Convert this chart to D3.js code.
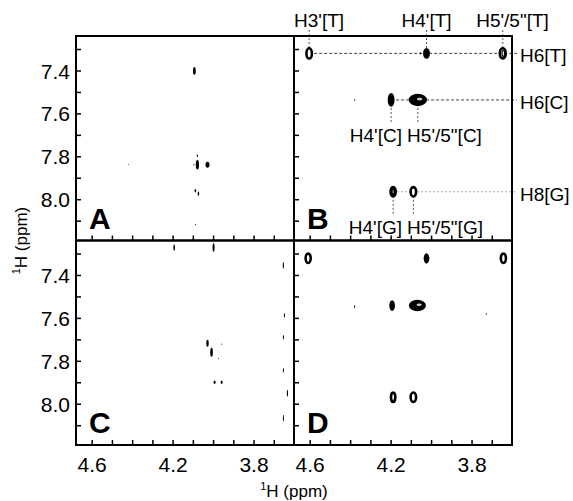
<!DOCTYPE html>
<html><head><meta charset="utf-8">
<script src="https://cdn.jsdelivr.net/npm/d3@7"></script>
<style>
html,body{margin:0;padding:0;background:#fff;}
svg text{font-family:"Liberation Sans",Arial,Helvetica,sans-serif;fill:#000;}
</style></head>
<body>
<svg id="chart" width="573" height="501"></svg>
<script>
// ---- data (ppm) ----
const panelNames = ["A", "B", "C", "D"];
const xTickValues = [4.6, 4.5, 4.4, 4.3, 4.2, 4.1, 4.0, 3.9, 3.8, 3.7];
const xTickLabels = ["4.6", "4.2", "3.8"];
const yTickValues = [7.3, 7.4, 7.5, 7.6, 7.7, 7.8, 7.9, 8.0, 8.1];
const yTickLabels = ["7.4", "7.6", "7.8", "8.0"];
const xDomain = [4.68, 3.6025];
const yDomain = [7.237, 8.19];

// peaks: [x ppm, y ppm, width x ppm, width y ppm, kind]
const peaksA = [
  [4.095, 7.400, 0.014, 0.036, "fill"],
  [4.080, 7.795, 0.006, 0.012, "fill"],
  [4.080, 7.837, 0.016, 0.044, "fill"],
  [4.030, 7.837, 0.020, 0.028, "fill"],
  [4.097, 7.837, 0.005, 0.006, "fill"],
  [4.420, 7.835, 0.004, 0.005, "fill"],
  [4.090, 7.958, 0.008, 0.016, "fill"],
  [4.075, 7.972, 0.008, 0.020, "fill"],
  [4.090, 8.116, 0.005, 0.005, "fill"]
];
const peaksB = [
  [4.605, 7.318, 0.040, 0.060, "ring"],
  [4.025, 7.318, 0.034, 0.050, "fill"],
  [3.648, 7.318, 0.042, 0.060, "ring2"],
  [4.055, 7.318, 0.006, 0.010, "fill"],
  [4.380, 7.535, 0.005, 0.008, "fill"],
  [4.200, 7.535, 0.034, 0.064, "fill"],
  [4.068, 7.535, 0.090, 0.058, "blob"],
  [4.190, 7.963, 0.038, 0.056, "fillring"],
  [4.090, 7.963, 0.040, 0.056, "ring"]
];
const peaksC = [
  [4.195, 7.270, 0.008, 0.030, "fill"],
  [4.000, 7.270, 0.010, 0.040, "fill"],
  [3.655, 7.353, 0.006, 0.032, "fill"],
  [3.650, 7.586, 0.005, 0.022, "fill"],
  [3.655, 7.688, 0.005, 0.022, "fill"],
  [3.655, 7.842, 0.005, 0.022, "fill"],
  [3.635, 7.949, 0.006, 0.032, "fill"],
  [3.655, 8.065, 0.005, 0.032, "fill"],
  [4.030, 7.716, 0.012, 0.032, "fill"],
  [4.010, 7.758, 0.013, 0.042, "fill"],
  [3.960, 7.720, 0.004, 0.006, "fill"],
  [3.975, 7.786, 0.004, 0.006, "fill"],
  [3.995, 7.898, 0.010, 0.016, "fill"],
  [3.960, 7.898, 0.010, 0.016, "fill"]
];
const peaksD = [
  [4.610, 7.320, 0.038, 0.056, "ring"],
  [4.025, 7.320, 0.028, 0.048, "fill"],
  [3.645, 7.320, 0.038, 0.056, "ring"],
  [4.380, 7.545, 0.005, 0.016, "fill"],
  [4.195, 7.540, 0.028, 0.050, "fill"],
  [4.070, 7.540, 0.084, 0.054, "blob"],
  [3.730, 7.580, 0.004, 0.010, "fill"],
  [4.190, 7.967, 0.034, 0.056, "ring"],
  [4.090, 7.967, 0.040, 0.056, "ring"]
];
const panelPeaks = [peaksA, peaksB, peaksC, peaksD];

// annotations of panel B
const topLabels = ["H3'[T]", "H4'[T]", "H5'/5\"[T]"];
const topLabelPeakX = [4.605, 4.025, 3.648];
const topLabelTextX = [4.68, 4.025, 3.60];
const topLabelAnchor = ["start", "middle", "middle"];
const rowLabels = ["H6[T]", "H6[C]", "H8[G]"];
const rowLabelY = [7.318, 7.535, 7.963];
const rowLabelStartX = [4.605, 4.200, 4.190];
const rowLabelStyle = ["dark", "dark", "light"];
const subLabels = ["H4'[C]", "H5'/5\"[C]", "H4'[G]", "H5'/5\"[G]"];
const subLabelPeakX = [4.200, 4.068, 4.190, 4.090];
const subLabelPeakY = [7.535, 7.535, 7.963, 7.963];
const subLabelTextX = [4.146, 4.121, 4.146, 4.121];
const subLabelAnchor = ["end", "start", "end", "start"];

// ---- layout ----
const svg = d3.select("#chart");
const mLeft = 76, mTop = 36, pw = 218, ph = 204.5;
const tickLen = 5;

const x = d3.scaleLinear().domain(xDomain).range([0, pw]);
const y = d3.scaleLinear().domain(yDomain).range([0, ph]);

svg.append("rect").attr("width", 573).attr("height", 501).attr("fill", "#fff");

panelNames.forEach((name, i) => {
  const col = i % 2, row = Math.floor(i / 2);
  const g = svg.append("g").attr("transform", `translate(${mLeft + col * pw},${mTop + row * ph})`);

  // annotations (panel B)
  if (name === "B") {
    const ann = g.append("g");
    rowLabels.forEach((t, k) => {
      const dark = rowLabelStyle[k] === "dark";
      ann.append("line")
        .attr("x1", x(rowLabelStartX[k])).attr("x2", pw + 5)
        .attr("y1", y(rowLabelY[k])).attr("y2", y(rowLabelY[k]))
        .attr("stroke", dark ? "#444" : "#aaa").attr("stroke-width", 1)
        .attr("stroke-dasharray", dark ? "3,2" : "2,2");
      ann.append("text").attr("x", pw + 8).attr("y", y(rowLabelY[k]) + 9)
        .attr("font-size", 19).text(t);
    });
    topLabels.forEach((t, k) => {
      ann.append("line")
        .attr("x1", x(topLabelPeakX[k])).attr("x2", x(topLabelPeakX[k]))
        .attr("y1", -6).attr("y2", y(rowLabelY[0]))
        .attr("stroke", "#555").attr("stroke-width", 1).attr("stroke-dasharray", "2,2");
      ann.append("text").attr("x", x(topLabelTextX[k])).attr("y", -9)
        .attr("text-anchor", topLabelAnchor[k]).attr("font-size", 19).text(t);
    });
    subLabels.forEach((t, k) => {
      const py = y(subLabelPeakY[k]);
      ann.append("line")
        .attr("x1", x(subLabelPeakX[k])).attr("x2", x(subLabelPeakX[k]))
        .attr("y1", py).attr("y2", py + 22)
        .attr("stroke", "#555").attr("stroke-width", 1).attr("stroke-dasharray", "2,2");
      ann.append("text").attr("x", x(subLabelTextX[k])).attr("y", py + 42)
        .attr("text-anchor", subLabelAnchor[k]).attr("font-size", 19).text(t);
    });
  }

  // peaks
  const pg = g.append("g");
  panelPeaks[i].forEach(p => {
    const cx = x(p[0]), cy = y(p[1]);
    const rx = Math.abs(x(p[0] + p[2] / 2) - cx);
    const ry = Math.abs(y(p[1] + p[3] / 2) - cy);
    const kind = p[4];
    if (kind === "fill") {
      pg.append("ellipse").attr("cx", cx).attr("cy", cy).attr("rx", rx).attr("ry", ry).attr("fill", "#000");
    } else if (kind === "ring" || kind === "ring2" || kind === "fillring") {
      pg.append("ellipse").attr("cx", cx).attr("cy", cy)
        .attr("rx", Math.max(rx - 1.3, 0.5)).attr("ry", Math.max(ry - 1.3, 0.5))
        .attr("fill", kind === "fillring" ? "#000" : "#fff").attr("stroke", "#000").attr("stroke-width", 2.6);
      if (kind === "ring2") {
        pg.append("ellipse").attr("cx", cx + 0.5).attr("cy", cy)
          .attr("rx", rx * 0.3).attr("ry", ry * 0.45)
          .attr("fill", "none").attr("stroke", "#000").attr("stroke-width", 1.2);
      }
      if (kind === "fillring") {
        pg.append("ellipse").attr("cx", cx).attr("cy", cy)
          .attr("rx", rx * 0.25).attr("ry", ry * 0.3).attr("fill", "#666");
      }
    } else if (kind === "blob") {
      pg.append("ellipse").attr("cx", cx).attr("cy", cy).attr("rx", rx).attr("ry", ry).attr("fill", "#000");
      pg.append("ellipse").attr("cx", cx + rx * 0.2).attr("cy", cy - ry * 0.15)
        .attr("rx", rx * 0.3).attr("ry", ry * 0.22).attr("fill", "#ccc");
    }
  });

  // ticks (inward, left and bottom)
  const tg = g.append("g").attr("stroke", "#000").attr("stroke-width", 1.5);
  yTickValues.forEach(v => {
    tg.append("line").attr("x1", 0).attr("x2", tickLen).attr("y1", y(v)).attr("y2", y(v));
  });
  xTickValues.forEach(v => {
    tg.append("line").attr("x1", x(v)).attr("x2", x(v)).attr("y1", ph).attr("y2", ph - tickLen);
  });

  // frame
  g.append("rect").attr("width", pw).attr("height", ph)
    .attr("fill", "none").attr("stroke", "#000").attr("stroke-width", 2);

  // tick labels
  if (col === 0) {
    yTickLabels.forEach(t => {
      g.append("text").attr("x", -6).attr("y", y(+t)).attr("dy", "0.36em")
        .attr("text-anchor", "end").attr("font-size", 21).text(t);
    });
  }
  if (row === 1) {
    xTickLabels.forEach(t => {
      g.append("text").attr("x", x(+t)).attr("y", ph + 27)
        .attr("text-anchor", "middle").attr("font-size", 21).text(t);
    });
  }

  // panel letter
  g.append("text").attr("x", 13).attr("y", ph - 12)
    .attr("font-size", 30).attr("font-weight", "bold").text(name);
});

// axis titles
const xt = svg.append("text").attr("x", mLeft + pw).attr("y", 497)
  .attr("text-anchor", "middle").attr("font-size", 17);
xt.append("tspan").attr("font-size", 11).attr("dy", -7).text("1");
xt.append("tspan").attr("dy", 7).text("H (ppm)");

const yt = svg.append("text").attr("transform", `translate(27,${mTop + ph}) rotate(-90)`)
  .attr("text-anchor", "middle").attr("font-size", 17);
yt.append("tspan").attr("font-size", 11).attr("dy", -7).text("1");
yt.append("tspan").attr("dy", 7).text("H (ppm)");
</script>
</body></html>
